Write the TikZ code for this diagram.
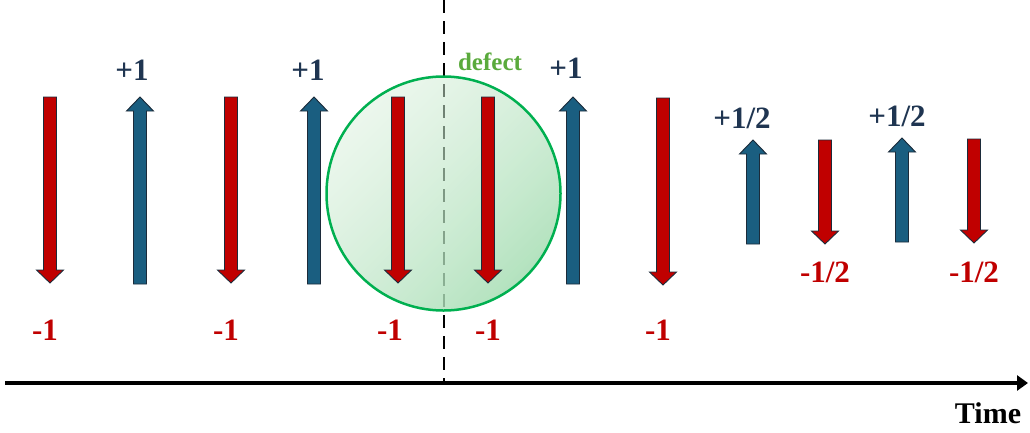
\documentclass[tikz,border=0pt]{standalone}
\usepackage{fontspec}
\setmainfont{Liberation Serif}
\usetikzlibrary{arrows.meta,fadings}
\definecolor{spinred}{HTML}{C00000}
\definecolor{spinblue}{HTML}{1A5E80}
\definecolor{edgecol}{HTML}{1C2B3A}
\definecolor{lblblue}{HTML}{1F3551}
\definecolor{defgreen}{HTML}{5AAA3C}
\definecolor{ringgreen}{HTML}{00B050}
\definecolor{circlight}{HTML}{D4EDD7}
\definecolor{circdark}{HTML}{A8DEB5}
\tikzfading[name=diagfade, top color=transparent!55, bottom color=transparent!12]
\tikzset{
  spinup/.style={fill=spinblue, draw=edgecol, line width=0.9pt, line join=miter},
  spindown/.style={fill=spinred, draw=edgecol, line width=0.9pt, line join=miter},
  lbl/.style={inner sep=0pt, anchor=base, font=\fontsize{31}{34}\selectfont\bfseries},
  uplbl/.style={lbl, text=lblblue},
  downlbl/.style={lbl, text=spinred},
}
\newcommand\spinU[3]{%
  \draw[spinup] (#1-6.5,#3) -- (#1-6.5,#2+14) -- (#1-13.5,#2+14) -- (#1,#2) -- (#1+13.5,#2+14) -- (#1+6.5,#2+14) -- (#1+6.5,#3) -- cycle;}
\newcommand\spinD[3]{%
  \draw[spindown] (#1-6.5,#2) -- (#1-6.5,#3-13) -- (#1-13.5,#3-13) -- (#1,#3) -- (#1+13.5,#3-13) -- (#1+6.5,#3-13) -- (#1+6.5,#2) -- cycle;}
\begin{document}
\begin{tikzpicture}[x=1pt,y=-1pt]
\useasboundingbox (0,0) rectangle (1030,432);
% dashed divider
\coordinate (dtop) at (444,0);
\coordinate (dbot) at (444,383);
\draw[line width=2.5pt, dash pattern=on 13pt off 8pt] (dtop) -- (dbot);
% defect circle
\shade[top color=circlight, bottom color=circdark, shading angle=45, path fading=diagfade, fading angle=45] (443.5,193.5) circle[radius=117];
\draw[ringgreen, line width=2.5pt] (443.5,193.5) circle[radius=117];
% axis
\coordinate (axL) at (5,383);
\coordinate (axR) at (1028,383);
\draw[line width=4pt, -{Triangle[length=11pt,width=15pt]}] (axL) -- (axR);
% spins
\spinD{50}{97}{283}
\spinU{140}{97}{284}
\spinD{231}{97}{283}
\spinU{314}{97}{284}
\spinD{398}{97}{283}
\spinD{488}{97}{283}
\spinU{573}{97}{284}
\spinD{663}{98}{285}
\spinU{753}{140}{244}
\spinD{825}{140}{244}
\spinU{902}{138}{242}
\spinD{974}{139}{243}
% labels
\node[uplbl] (p1) at (132,80) {+1};
\node[uplbl] (p2) at (308,80) {+1};
\node[uplbl] (p3) at (566,78) {+1};
\node[uplbl] (h1) at (742,128) {+1/2};
\node[uplbl] (h2) at (897,126) {+1/2};
\node[downlbl] (m1) at (45,340) {-1};
\node[downlbl] (m2) at (226,340) {-1};
\node[downlbl] (m3) at (390,340) {-1};
\node[downlbl] (m4) at (488,340) {-1};
\node[downlbl] (m5) at (658,340) {-1};
\node[downlbl] (q1) at (825,282) {-1/2};
\node[downlbl] (q2) at (974,282) {-1/2};
\node[inner sep=0pt, anchor=base, text=defgreen, font=\fontsize{25}{28}\selectfont\bfseries] (def) at (490,70) {defect};
\node[inner sep=0pt, anchor=base, text=black, font=\fontsize{30}{33}\selectfont\bfseries] (time) at (988,423) {Time};
\end{tikzpicture}
\end{document}
